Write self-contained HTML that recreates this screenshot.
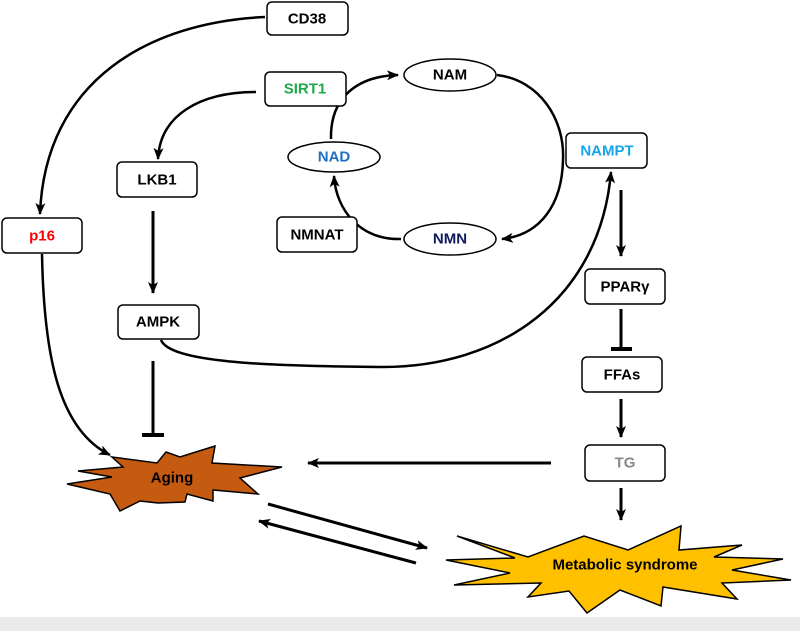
<!DOCTYPE html>
<html><head><meta charset="utf-8"><style>
html,body{margin:0;padding:0;background:#fff}
svg{display:block}
text{font-family:"Liberation Sans",Arial,sans-serif;font-weight:bold;font-size:15px;text-anchor:middle;dominant-baseline:central}
</style></head><body>
<svg width="800" height="631" viewBox="0 0 800 631" xmlns="http://www.w3.org/2000/svg">
<defs>
<marker id="a" markerWidth="14" markerHeight="14" refX="11" refY="6" orient="auto" markerUnits="userSpaceOnUse">
<path d="M0,1 L12,6 L0,11 L3,6 Z" fill="#000"/></marker>
</defs>
<rect x="0" y="617" width="800" height="14" fill="#ebebeb"/>
<g fill="none" stroke="#000" stroke-width="2.5">
<path d="M265,17 C150,22 45,80 40,214" marker-end="url(#a)"/>
<path d="M42,254 C44,360 60,430 110,455" marker-end="url(#a)"/>
<path d="M256,92 C200,92 160,115 158,159" marker-end="url(#a)"/>
<path d="M153,211 L153,293" stroke-width="3" marker-end="url(#a)"/>
<path d="M153,361 L153,434" stroke-width="3"/>
<path d="M142,435 L164,435" stroke-width="4"/>
<path d="M331,139 C330,95 360,76 398,75" marker-end="url(#a)"/>
<path d="M497,75 C540,80 565,120 563,160 C562,205 540,235 502,239" marker-end="url(#a)"/>
<path d="M401,239 C360,240 336,210 334,176" marker-end="url(#a)"/>
<path d="M161,340 C170,362 260,366 380,367 C500,368 600,300 611,172" marker-end="url(#a)"/>
<path d="M621,190 L621,256" stroke-width="3" marker-end="url(#a)"/>
<path d="M621,309 L621,348" stroke-width="3"/>
<path d="M611,349 L632,349" stroke-width="4"/>
<path d="M621,399 L621,437" stroke-width="3" marker-end="url(#a)"/>
<path d="M621,488 L621,520" stroke-width="3" marker-end="url(#a)"/>
<path d="M551,463 L308,463" stroke-width="3" marker-end="url(#a)"/>
<path d="M268,504 L427,548" stroke-width="3" marker-end="url(#a)"/>
<path d="M416,563 L259,521" stroke-width="3" marker-end="url(#a)"/>
</g>
<polygon points="112,457 157,463 166,452 180,457 215,446 212,463 282,467 240,478 258,494 213,490 213,501 187,494 185,502 158,503 140,501 120,511 110,494 67,484 112,477 78,471 123,467" fill="#c55a11" stroke="#000" stroke-width="1.5"/>
<text x="172" y="478" font-size="16">Aging</text>
<polygon points="457,536 528,557 584,536 628,550 681,526 679,550 742,545 714,557 783,559 732,570 791,580 722,583 737,599 663,587 661,606 620,590 587,613 569,591 528,597 541,583 454,585 510,573 446,560 515,558" fill="#ffc000" stroke="#000" stroke-width="1.5"/>
<text x="625" y="565" font-size="15">Metabolic syndrome</text>
<g fill="#fff" stroke="#000" stroke-width="1.5">
<rect x="267" y="2" width="81" height="33" rx="5"/>
<rect x="265" y="72" width="81" height="34" rx="5"/>
<rect x="117" y="162" width="80" height="35" rx="5"/>
<rect x="2" y="218" width="80" height="35" rx="5"/>
<rect x="118" y="305" width="81" height="34" rx="5"/>
<rect x="277" y="217" width="80" height="35" rx="5"/>
<rect x="566" y="133" width="81" height="35" rx="5"/>
<rect x="585" y="269" width="80" height="35" rx="5"/>
<rect x="582" y="357" width="80" height="35" rx="5"/>
<rect x="585" y="445" width="80" height="36" rx="5"/>
<ellipse cx="334" cy="157" rx="46" ry="15"/>
<ellipse cx="450" cy="75" rx="46" ry="16"/>
<ellipse cx="450" cy="239" rx="46" ry="16"/>
</g>
<text x="307" y="19">CD38</text>
<text x="305" y="89" fill="#1ea84a">SIRT1</text>
<text x="157" y="180">LKB1</text>
<text x="42" y="236" fill="#ff0000">p16</text>
<text x="158" y="322">AMPK</text>
<text x="317" y="235">NMNAT</text>
<text x="334" y="157" fill="#1f6fc4">NAD</text>
<text x="450" y="75">NAM</text>
<text x="450" y="239" fill="#0d1a5c">NMN</text>
<text x="607" y="151" fill="#14a5ea">NAMPT</text>
<text x="625" y="287">PPARγ</text>
<text x="622" y="375">FFAs</text>
<text x="625" y="463" fill="#888" font-weight="normal">TG</text>
</svg>
</body></html>
